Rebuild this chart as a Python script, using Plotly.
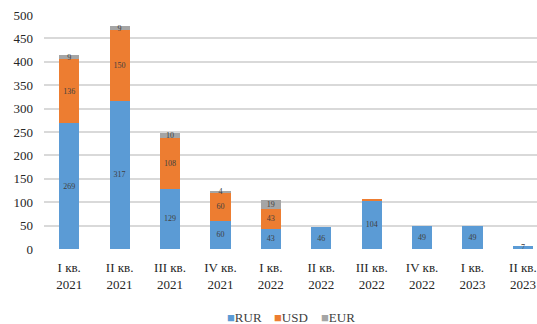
import plotly.graph_objects as go

quarters = ['I кв.<br>2021', 'II кв.<br>2021', 'III кв.<br>2021', 'IV кв.<br>2021', 'I кв.<br>2022',
            'II кв.<br>2022', 'III кв.<br>2022', 'IV кв.<br>2022', 'I кв.<br>2023', 'II кв.<br>2023']
rur = [269, 317, 129, 60, 43, 46, 104, 49, 49, 7]
usd = [136, 150, 108, 60, 43, 0, 1, 0, 0, 0]
eur = [9, 9, 10, 4, 19, 0, 0, 0, 0, 0]

FONT = 'Liberation Serif'
COLORS = {'RUR': '#5B9BD5', 'USD': '#ED7D31', 'EUR': '#A5A5A5'}


def labels(vals):
    return [str(v) if v > 1 else '' for v in vals]


fig = go.Figure()
for name, vals in (('RUR', rur), ('USD', usd), ('EUR', eur)):
    fig.add_trace(go.Bar(
        x=list(range(len(quarters))), y=vals, name=name,
        marker=dict(color=COLORS[name], line=dict(width=0)),
        text=labels(vals), textposition='inside', insidetextanchor='middle',
        textangle=0, constraintext='none',
        textfont=dict(family=FONT, size=8, color='#404040'),
    ))

# legend drawn as text so the square sits right next to its label
for name, xpos in zip(('RUR', 'USD', 'EUR'), (0.367, 0.462, 0.558)):
    fig.add_annotation(text=f"<span style='color:{COLORS[name]}'>■</span>{name}",
                       xref='paper', yref='paper', x=xpos, y=-0.291,
                       xanchor='left', yanchor='middle', showarrow=False,
                       font=dict(family=FONT, size=13, color='#404040'))

fig.update_layout(
    barmode='stack', bargap=0.6, showlegend=False,
    width=537, height=324,
    margin=dict(l=44, r=0, t=15, b=75),
    paper_bgcolor='white', plot_bgcolor='white',
    font=dict(family=FONT, size=13, color='#262626'),
    uniformtext=dict(minsize=8, mode='show'),
    xaxis=dict(tickvals=list(range(len(quarters))), ticktext=quarters, range=[-0.5, 9.28],
               showline=False, ticks='', ticklabelstandoff=9, tickfont=dict(size=13),
               ticklabeloverflow='allow'),
    yaxis=dict(range=[0, 500], dtick=50, gridcolor='#d9d9d9', gridwidth=1.5,
               zeroline=False, ticks='', ticklabelstandoff=10, tickfont=dict(size=13),
               ticklabeloverflow='allow'),
)
# drop the browser's default body margin so the figure fills the window
fig.write_html('out.html', config={'displayModeBar': False},
               post_script="document.body.style.margin='0';")
